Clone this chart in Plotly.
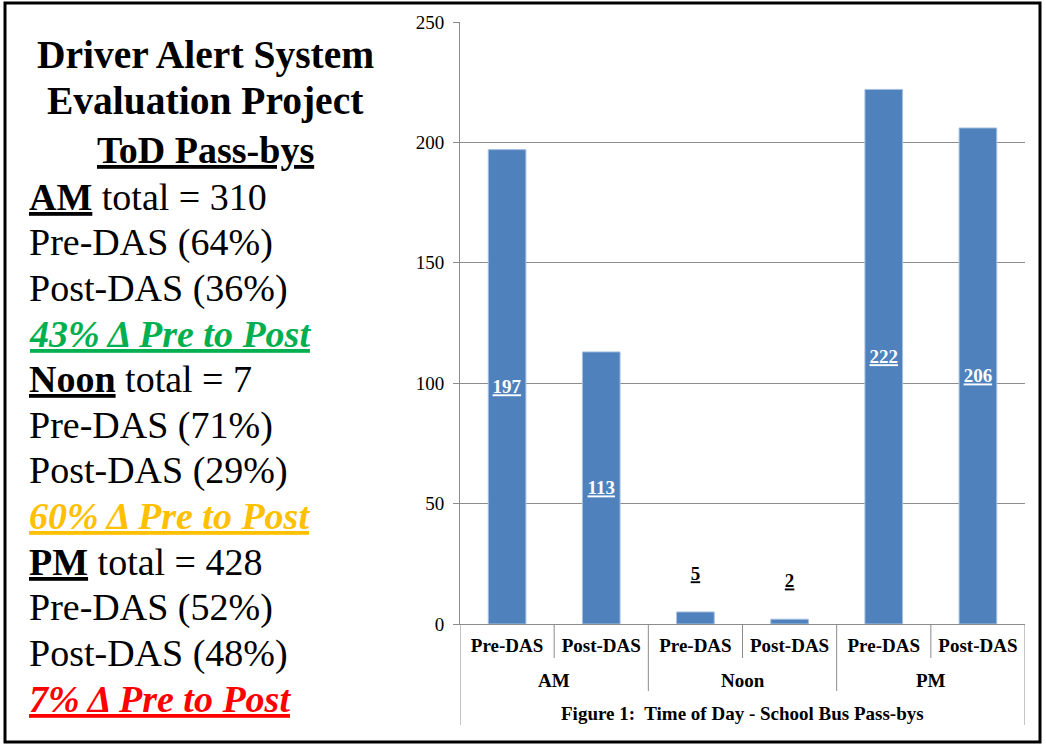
import plotly.graph_objects as go

# ---------------- data ----------------
groups = ["AM", "Noon", "PM"]
phases = ["Pre-DAS", "Post-DAS"]
counts = [197, 113, 5, 2, 222, 206]
y_ticks = [0, 50, 100, 150, 200, 250]
chart_title = "Figure 1:\u00a0 Time of Day - School Bus Pass-bys"

panel_title = ["Driver Alert System", "Evaluation Project", "ToD Pass-bys"]
totals = [310, 7, 428]
pre_pct = [64, 71, 52]
post_pct = [36, 29, 48]
change_pct = [43, 60, 7]
change_colors = ["#00B050", "#FFC000", "#FF0000"]

# ---------------- layout helpers ----------------
W, H = 1046, 744
L, R, T, B = 460, 1025, 22, 624
FONT = "Liberation Serif"
GRID = "#8c8c8c"


def px(x):
    return (x - L) / (R - L)


def py(y):
    return (B - y) / (B - T)


n = len(counts)
xs = list(range(n))
tick_text = [f"<b>{p}</b>" for _ in groups for p in phases]
inside = [v > 20 for v in counts]
bar_text = [f"<b><u>{v}</u></b>" if ins else f"<b><u>{v}</u></b><br>\u00a0"
            for v, ins in zip(counts, inside)]
text_pos = ["inside" if ins else "outside" for ins in inside]

fig = go.Figure()
fig.add_trace(go.Bar(
    x=xs, y=counts, width=0.4,
    marker=dict(color="#4F81BD", line=dict(color="#a9c0e0", width=1)),
    text=bar_text, textposition=text_pos, insidetextanchor="middle",
    textfont=dict(family=FONT, size=19),
    insidetextfont=dict(family=FONT, size=19, color="white"),
    outsidetextfont=dict(family=FONT, size=19, color="black"),
    cliponaxis=False, hoverinfo="skip",
))

shapes = []
# category dividers below the axis
for i in range(-1, n):
    xb = i + 0.5
    if i == -1 or i == n - 1:
        yb = 725
    elif (i + 1) % len(phases) == 0:
        yb = 691
    else:
        yb = 658
    shapes.append(dict(type="line", xref="x", yref="paper", x0=xb, x1=xb,
                       y0=0, y1=py(yb), line=dict(color=GRID, width=1)))
# outer frame
shapes.append(dict(type="rect", xref="paper", yref="paper",
                   x0=px(5), x1=px(1040), y0=py(742), y1=py(3),
                   line=dict(color="black", width=3), layer="above"))

annotations = []
# group labels
for g, name in enumerate(groups):
    xc = sum(range(g * len(phases), (g + 1) * len(phases))) / len(phases)
    annotations.append(dict(text=f"<b>{name}</b>", xref="x", yref="paper",
                            x=xc, y=py(680), showarrow=False, yanchor="middle",
                            font=dict(family=FONT, size=19, color="black")))
# figure caption
annotations.append(dict(text=f"<b>{chart_title}</b>", xref="paper", yref="paper",
                        x=0.5, y=py(713), showarrow=False, yanchor="middle",
                        font=dict(family=FONT, size=19, color="black")))

# left panel
title_y = [55, 101, 150]
title_size = [39.5, 39.5, 38]
for k, (t, yc, fs) in enumerate(zip(panel_title, title_y, title_size)):
    txt = f"<b>{t}</b>" if k < 2 else f"<b><u>{t}</u></b>"
    annotations.append(dict(text=txt, xref="paper", yref="paper",
                            x=px(205), y=py(yc), xanchor="center", yanchor="middle",
                            showarrow=False,
                            font=dict(family=FONT, size=fs, color="black")))

body = []
for g, tot, pre, post, ch, col in zip(groups, totals, pre_pct, post_pct,
                                      change_pct, change_colors):
    body.append((f"<b><u>{g}</u></b> total = {tot}", "black"))
    body.append((f"Pre-DAS ({pre}%)", "black"))
    body.append((f"Post-DAS ({post}%)", "black"))
    body.append((f"<b><i><u>{ch}% \u0394 Pre to Post</u></i></b>", col))

y0, step = 197, 45.6
for k, (txt, col) in enumerate(body):
    annotations.append(dict(text=txt, xref="paper", yref="paper",
                            x=px(27), y=py(y0 + k * step), xanchor="left",
                            yanchor="middle", showarrow=False,
                            font=dict(family=FONT, size=38, color=col)))

fig.update_layout(
    width=W, height=H,
    margin=dict(l=L, r=W - R, t=T, b=H - B, autoexpand=False),
    paper_bgcolor="white", plot_bgcolor="white",
    showlegend=False, bargap=0.6,
    shapes=shapes, annotations=annotations,
    xaxis=dict(range=[-0.5, n - 0.5], tickvals=xs, ticktext=tick_text,
               showgrid=False, zeroline=False, showline=True, linecolor=GRID,
               ticks="", ticklabelstandoff=4,
               tickfont=dict(family=FONT, size=19, color="black")),
    yaxis=dict(range=[0, 250], tickvals=y_ticks, showgrid=True, gridcolor=GRID,
               gridwidth=1, zeroline=False, showline=True, linecolor=GRID,
               ticks="outside", ticklen=6, tickcolor=GRID, ticklabelstandoff=5,
               tickfont=dict(family=FONT, size=19, color="black")),
)

fig.write_html(
    "out.html",
    config={"displayModeBar": False},
    post_script="document.body.style.margin='0';document.body.style.overflow='hidden';",
)
